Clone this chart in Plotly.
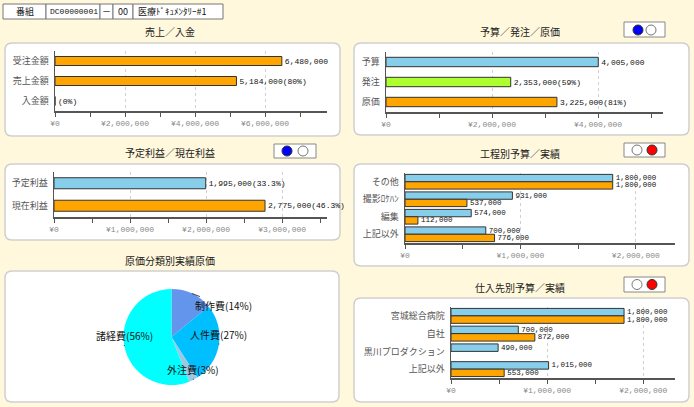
import math
import plotly.graph_objects as go

W, H = 694, 407

# ---------------- data ----------------
header_cells = ["番組", "DC00000001", "－", "00", "医療ﾄﾞｷｭﾒﾝﾀﾘｰ#1"]

sales_title = "売上／入金"
sales_cats = ["受注金額", "売上金額", "入金額"]
sales_vals = [6480000, 5184000, 0]
sales_rates = [None, "80", "0"]

budget_title = "予算／発注／原価"
budget_cats = ["予算", "発注", "原価"]
budget_vals = [4005000, 2353000, 3225000]
budget_rates = [None, "59", "81"]

profit_title = "予定利益／現在利益"
profit_cats = ["予定利益", "現在利益"]
profit_vals = [1995000, 2775000]
profit_rates = ["33.3", "46.3"]

process_title = "工程別予算／実績"
process_cats = ["その他", "撮影ﾛｹﾊﾝ", "編集", "上記以外"]
process_budget = [1800000, 931000, 574000, 700000]
process_actual = [1800000, 537000, 112000, 776000]

supplier_title = "仕入先別予算／実績"
supplier_cats = ["宮城総合病院", "自社", "黒川プロダクション", "上記以外"]
supplier_budget = [1800000, 700000, 490000, 1015000]
supplier_actual = [1800000, 872000, None, 553000]

cost_title = "原価分類別実績原価"
cost_cats = ["制作費", "人件費", "外注費", "諸経費"]
cost_pcts = [14, 27, 3, 56]

# ---------------- style ----------------
BG = "#FFF8DC"
JP = "Noto Sans CJK JP"
MONO = "Liberation Mono, DejaVu Sans Mono, Noto Sans CJK JP"
SKY = "#87CEEB"
ORANGE = "#FFA500"
GREEN = "#ADFF2F"
PIE_COLORS = ["#6495ED", "#00BFFF", "#9CC8E4", "#00FFFF"]


def px(x):
    return x / W


def py(y):
    return 1 - y / H


def label(v, r):
    s = f"{v:,}" if v else ""
    if r is not None:
        s += f"({r}%)"
    return s


shapes = []
annotations = []


def rbox(x0, y0, x1, y1, r=7, color="#cfcfcf", fill="white", width=1.5):
    X0, X1, Y0, Y1 = px(x0), px(x1), py(y0), py(y1)
    rx, ry = r / W, r / H
    path = (f"M{X0+rx},{Y0} L{X1-rx},{Y0} Q{X1},{Y0} {X1},{Y0-ry} "
            f"L{X1},{Y1+ry} Q{X1},{Y1} {X1-rx},{Y1} L{X0+rx},{Y1} "
            f"Q{X0},{Y1} {X0},{Y1+ry} L{X0},{Y0-ry} Q{X0},{Y0} {X0+rx},{Y0} Z")
    shapes.append(dict(type="path", xref="paper", yref="paper", path=path,
                       line=dict(color=color, width=width), fillcolor=fill, layer="below"))


def rect(x0, y0, x1, y1, color="#888", fill="white", width=1):
    shapes.append(dict(type="rect", xref="paper", yref="paper",
                       x0=px(x0), x1=px(x1), y0=py(y1), y1=py(y0),
                       line=dict(color=color, width=width), fillcolor=fill, layer="below"))


def circle(cx, cy, r, fill, line):
    shapes.append(dict(type="circle", xref="paper", yref="paper",
                       x0=px(cx - r), x1=px(cx + r), y0=py(cy + r), y1=py(cy - r),
                       line=dict(color=line, width=1), fillcolor=fill, layer="above"))


def toggle(x0, y0, x1, y1, cx1, cx2, cy, c1, c2):
    rect(x0, y0, x1, y1, color="#888", fill="white", width=1)
    for cx, c in ((cx1, c1), (cx2, c2)):
        circle(cx, cy, 5, c, "#333" if c != "white" else "#777")


def text(x, y, s, size=10, color="#222", family=JP, xanchor="center"):
    annotations.append(dict(x=px(x), y=py(y), xref="paper", yref="paper", text=s,
                            showarrow=False, xanchor=xanchor, yanchor="middle",
                            font=dict(family=family, size=size, color=color)))


# ---------------- header ----------------
edges = [3, 46, 100, 113, 133, 223]
for i, s in enumerate(header_cells):
    rect(edges[i], 4, edges[i + 1], 19, color="#777", fill="white", width=1)
    if i == 1:
        text(edges[i] + 2, 11.5, s, size=8, color="#111", family=MONO, xanchor="left")
    elif i == 4:
        text(edges[i] + 3, 11.5, s, size=9, color="#111", xanchor="left")
    else:
        text((edges[i] + edges[i + 1]) / 2, 11.5, s, size=9, color="#111")

# ---------------- panel boxes / titles / toggles ----------------
rbox(5, 43, 340, 136)
rbox(354, 43, 689, 135)
rbox(5, 164, 340, 240)
rbox(354, 164, 689, 266)
rbox(5, 271, 339, 402)
rbox(354, 298, 689, 402)

text(170, 31, sales_title)
text(520, 32, budget_title)
text(170, 152, profit_title)
text(520, 153, process_title)
text(170, 260, cost_title)
text(520, 287, supplier_title)

toggle(624, 22, 665, 37, 638, 651, 30, "#0000FF", "white")
toggle(274, 144, 316, 158, 287, 303, 151, "#0000FF", "white")
toggle(624, 143, 665, 157, 637, 652, 150, "white", "#FF0000")
toggle(624, 277, 665, 292, 637, 652, 284.5, "white", "#FF0000")

# ---------------- axes ----------------
layout_axes = {}


def add_axes(n, xd, yd, xmax, dtick, minor, cats):
    sfx = "" if n == 1 else str(n)
    layout_axes["xaxis" + sfx] = dict(
        domain=[px(xd[0]), px(xd[1])], anchor="y" + sfx, range=[0, xmax],
        tick0=0, dtick=dtick, tickprefix="¥", tickformat=",d",
        ticks="outside", ticklen=4, tickcolor="#555", tickwidth=1,
        showline=True, linecolor="#555", linewidth=1.5,
        showgrid=True, gridcolor="#d0d0d0", griddash="dot", gridwidth=1,
        zeroline=False,
        minor=dict(dtick=minor, tick0=0, ticks="outside", ticklen=4,
                   tickcolor="#555", tickwidth=1, showgrid=False),
        tickfont=dict(family=MONO, size=8, color="#888"),
        fixedrange=True, automargin=False)
    layout_axes["yaxis" + sfx] = dict(
        domain=[py(yd[1]), py(yd[0])], anchor="x" + sfx, type="category",
        categoryorder="array", categoryarray=cats, autorange="reversed",
        showline=True, linecolor="#555", linewidth=1.5, ticks="",
        showgrid=False, zeroline=False, ticklabelstandoff=3,
        tickfont=dict(family=JP, size=9, color="#555"),
        fixedrange=True, automargin=False)
    return "x" + sfx, "y" + sfx


traces = []


def hbar(axes, cats, vals, texts, color, width, offset=None, size=8):
    traces.append(go.Bar(
        y=cats, x=vals, orientation="h", xaxis=axes[0], yaxis=axes[1],
        marker=dict(color=color, line=dict(color="#333", width=1)),
        width=width, offset=offset, text=texts, textposition="outside",
        textfont=dict(family=MONO, size=size, color="#111"),
        cliponaxis=False, constraintext="none", showlegend=False,
        hoverinfo="skip"))


a1 = add_axes(1, (55, 327), (51, 111), 7.77e6, 2e6, 1e6, sales_cats)
hbar(a1, sales_cats, sales_vals,
     [label(v, r) for v, r in zip(sales_vals, sales_rates)], ORANGE, 0.45)

a2 = add_axes(2, (386, 663), (52, 112), 5.226e6, 2e6, 1e6, budget_cats)
hbar(a2, budget_cats, budget_vals,
     [label(v, r) for v, r in zip(budget_vals, budget_rates)],
     [SKY, GREEN, ORANGE], 0.47)

a3 = add_axes(3, (54, 327), (172, 217), 3.59e6, 1e6, 5e5, profit_cats)
hbar(a3, profit_cats, profit_vals,
     [label(v, r) for v, r in zip(profit_vals, profit_rates)],
     [SKY, ORANGE], 0.49)

a4 = add_axes(4, (405, 675), (173, 243), 2.34e6, 1e6, 5e5, process_cats)
hbar(a4, process_cats, process_budget, [label(v, None) for v in process_budget], SKY, 0.42, -0.42, 7.5)
hbar(a4, process_cats, process_actual, [label(v, None) for v in process_actual], ORANGE, 0.42, 0.0, 7.5)

a5 = add_axes(5, (451, 675), (307, 378), 2.33e6, 1e6, 5e5, supplier_cats)
hbar(a5, supplier_cats, supplier_budget, [label(v, None) for v in supplier_budget], SKY, 0.42, -0.42, 7.5)
hbar(a5, supplier_cats, supplier_actual, [label(v, None) for v in supplier_actual], ORANGE, 0.42, 0.0, 7.5)

# ---------------- pie ----------------
PCX, PCY, PR = 171.5, 337, 48
traces.append(go.Pie(
    labels=cost_cats, values=cost_pcts, sort=False, direction="clockwise",
    rotation=0, marker=dict(colors=PIE_COLORS, line=dict(width=0)),
    textinfo="none", hoverinfo="skip", showlegend=False,
    domain=dict(x=[px(PCX - PR), px(PCX + PR)], y=[py(PCY + PR), py(PCY - PR)])))

total = sum(cost_pcts)
cum = 0
for i, (c, p) in enumerate(zip(cost_cats, cost_pcts)):
    th = math.radians((cum + p / 2) / total * 360)
    cum += p
    ex, ey = PCX + PR * math.sin(th), PCY - PR * math.cos(th)
    ax, ay = (32, 12) if i == 0 else (0, -10)
    annotations.append(dict(
        x=px(ex), y=py(ey), xref="paper", yref="paper",
        text=f"{c}({round(p / total * 100)}%)", showarrow=True, arrowhead=0,
        arrowwidth=1, arrowcolor="#444", ax=ax, ay=ay,
        font=dict(family=JP, size=10, color="#111")))

fig = go.Figure(traces)
fig.update_layout(
    template="none", width=W, height=H, margin=dict(l=0, r=0, t=0, b=0),
    paper_bgcolor=BG, plot_bgcolor="rgba(0,0,0,0)", barmode="overlay",
    shapes=shapes, annotations=annotations, showlegend=False,
    **layout_axes)
fig.write_html(
    "out.html",
    config={"displayModeBar": False, "staticPlot": True},
    post_script="document.body.style.margin='0';document.body.style.background='%s';" % BG)
